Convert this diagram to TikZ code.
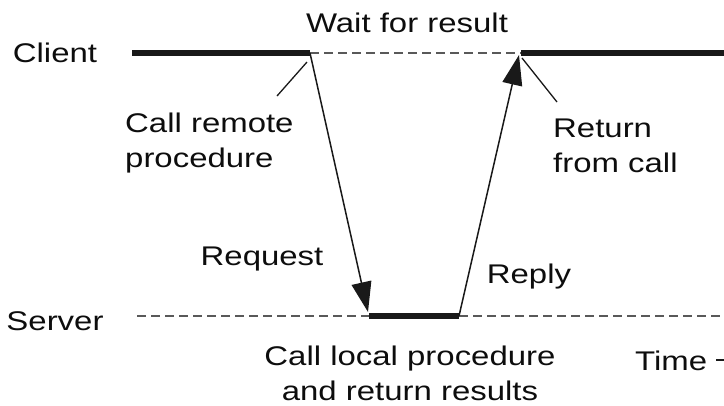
\documentclass[tikz,border=0pt]{standalone}
\usepackage{fontspec}
\setmainfont[FakeStretch=1.22]{Liberation Sans}
\usetikzlibrary{arrows.meta}

\begin{document}
\begin{tikzpicture}[x=1pt, y=-1pt,
  active/.style={line width=6.5pt, draw=black!90},
  idle/.style={line width=1.3pt, draw=black!65, dash pattern=on 9pt off 5pt},
  msg/.style={line width=1.5pt, draw=black!90, -{Triangle[length=30pt,width=20pt]}},
  leader/.style={line width=1.3pt, draw=black!90},
  lbl/.style={font=\fontsize{27}{35}\selectfont, text=black!95, inner sep=0pt}]
  \useasboundingbox (0,0) rectangle (724,405);

  % time-line anchor points
  \coordinate (cStart) at (132,53);
  \coordinate (cCall)  at (310,53);
  \coordinate (cRet)   at (521,53);
  \coordinate (cEnd)   at (740,53);
  \coordinate (sStart) at (137,316);
  \coordinate (sBeg)   at (369,316);
  \coordinate (sEnd)   at (459,316);
  \coordinate (sFar)   at (740,316);
  \coordinate (reqTip) at (368,312);
  \coordinate (repTip) at (519,55);

  % client and server time lines
  \draw[active] (cStart) -- (cCall);
  \draw[idle]   (cCall) -- (cRet);
  \draw[active] (cRet) -- (cEnd);
  \draw[idle]   (sStart) -- (sBeg);
  \draw[active] (sBeg) -- (sEnd);
  \draw[idle]   (sEnd) -- (sFar);

  % messages
  \draw[msg] (cCall) -- (reqTip);
  \draw[msg] (sEnd) -- (repTip);

  % labels
  \node[lbl, anchor=base] (client) at (55,62) {Client};
  \node[lbl, anchor=base] (server) at (55,330) {Server};
  \node[lbl, anchor=base] (wait) at (407,32) {Wait for result};
  \node[lbl, anchor=base] (request) at (262,265) {Request};
  \node[lbl, anchor=base] (reply) at (529,283) {Reply};
  \node[lbl, anchor=north west, align=left] (callrem) at (125,113) {Call remote\\procedure};
  \node[lbl, anchor=north west, align=left] (retcall) at (553,119) {Return\\from call};
  \node[lbl, anchor=north, align=center] (local) at (410,346) {Call local procedure\\and return results};
  \node[lbl, anchor=base west] (time) at (635,370) {Time};

  % leader lines and time axis
  \coordinate (callLead) at (277,96);
  \coordinate (retLead)  at (557,102);
  \draw[leader] (307,62) -- (callLead);
  \draw[leader] (522,58) -- (retLead);
  \draw[leader] ([xshift=9pt,yshift=10pt]time.base east) -- +(40,0);
\end{tikzpicture}
\end{document}
